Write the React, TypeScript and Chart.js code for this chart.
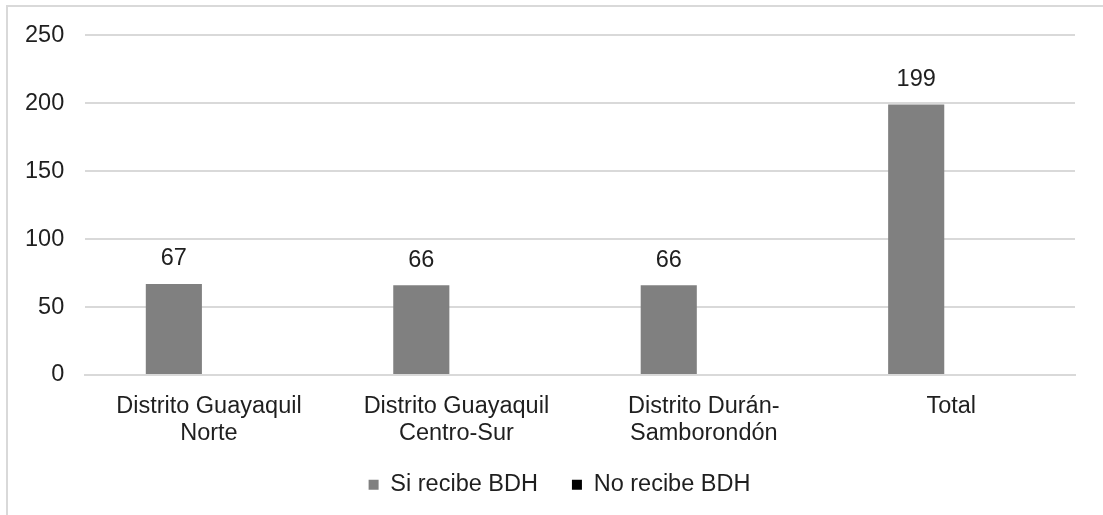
import React, { useEffect, useRef } from "react";
import { Chart, registerables } from "chart.js";

Chart.register(...registerables);

const categories: string[][] = [
  ["Distrito Guayaquil", "Norte"],
  ["Distrito Guayaquil", "Centro-Sur"],
  ["Distrito Durán-", "Samborondón"],
  ["Total"],
];
const siRecibe: number[] = [67, 66, 66, 199];
const noRecibe: number[] = [0, 0, 0, 0];
const seriesNames: string[] = ["Si recibe BDH", "No recibe BDH"];
const yTicks: number[] = [0, 50, 100, 150, 200, 250];

const FONT = '"Liberation Sans", Arial, sans-serif';
const FS = 23.5;
const TEXT = "#1f1f1f";

const valueLabels = {
  id: "valueLabels",
  afterDatasetsDraw(chart: any) {
    const ctx = chart.ctx;
    const meta = chart.getDatasetMeta(0);
    const data = chart.data.datasets[0].data as number[];
    ctx.save();
    ctx.font = `${FS}px ${FONT}`;
    ctx.fillStyle = TEXT;
    ctx.textAlign = "center";
    ctx.textBaseline = "middle";
    meta.data.forEach((bar: any, i: number) => {
      if (data[i] > 0) ctx.fillText(String(data[i]), bar.x, bar.y - 25);
    });
    ctx.restore();
  },
};

const legendShift = {
  id: "legendShift",
  afterLayout(chart: any) {
    const lg = chart.legend;
    if (lg) {
      lg.left += 20;
      lg.right += 20;
      lg.top -= 10;
      lg.bottom -= 10;
    }
  },
};

export default function App() {
  const ref = useRef<HTMLCanvasElement>(null);
  useEffect(() => {
    if (!ref.current) return;
    const chart = new Chart(ref.current, {
      type: "bar",
      data: {
        labels: categories,
        datasets: [
          {
            label: seriesNames[0],
            data: siRecibe,
            backgroundColor: "#808080",
            categoryPercentage: 0.567,
            barPercentage: 0.8,
          },
          {
            label: seriesNames[1],
            data: noRecibe,
            backgroundColor: "#000000",
            categoryPercentage: 0.567,
            barPercentage: 0.8,
          },
        ],
      },
      options: {
        responsive: false,
        animation: false,
        layout: { padding: { left: 4, right: 28, top: 35, bottom: 0 } },
        plugins: {
          legend: {
            position: "bottom",
            maxHeight: 66,
            labels: {
              boxWidth: 10,
              boxHeight: 10,
              padding: 34,
              color: TEXT,
              font: { family: FONT, size: FS },
            },
          },
          tooltip: { enabled: false },
        },
        scales: {
          x: {
            grid: { display: false, drawTicks: false },
            border: { display: true, color: "#d9d9d9", width: 2 },
            afterFit: (scale: any) => {
              scale.height = 74;
            },
            ticks: {
              color: TEXT,
              padding: 18,
              maxRotation: 0,
              font: { family: FONT, size: FS, lineHeight: 1.15 },
            },
          },
          y: {
            min: 0,
            max: 250,
            afterBuildTicks: (axis: any) => {
              axis.ticks = yTicks.map((v) => ({ value: v }));
            },
            grid: { color: "#d9d9d9", lineWidth: 2, drawTicks: false },
            border: { display: false },
            ticks: {
              color: TEXT,
              padding: 21,
              font: { family: FONT, size: FS },
            },
          },
        },
      },
      plugins: [valueLabels, legendShift],
    });
    return () => chart.destroy();
  }, []);

  return (
    <>
      <div
        style={{
          position: "fixed",
          left: 6,
          top: 5,
          width: 1200,
          height: 600,
          border: "2px solid #d9d9d9",
          boxSizing: "border-box",
        }}
      />
      <div style={{ position: "fixed", left: 0, top: 0, width: 1103, height: 515 }}>
        <canvas ref={ref} width={1103} height={515} style={{ width: 1103, height: 515, display: "block" }} />
      </div>
    </>
  );
}
